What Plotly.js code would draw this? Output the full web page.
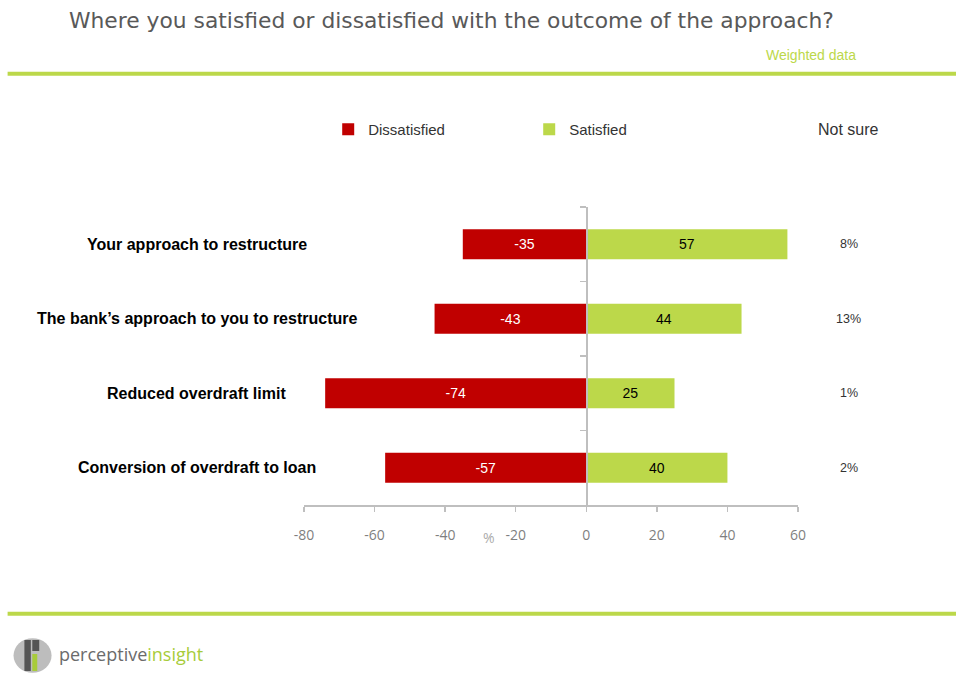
<!DOCTYPE html>
<html>
<head>
<meta charset="utf-8">
<script src="https://cdn.plot.ly/plotly-3.0.1.min.js"></script>
<style>html,body{margin:0;padding:0;background:#fff;}#chart{width:956px;height:675px;}</style>
</head>
<body>
<div id="chart"></div>
<script>
const categories = [
  "Your approach to restructure",
  "The bank\u2019s approach to you to restructure",
  "Reduced overdraft limit",
  "Conversion of overdraft to loan"
];
const dissatisfied = [-35, -43, -74, -57];
const satisfied = [57, 44, 25, 40];
const notSure = [8, 13, 1, 2];
const xTicks = [-80, -60, -40, -20, 0, 20, 40, 60];

const RED = '#C00000';
const GREEN = '#BCD84A';
const GRID = '#BFBFBF';

const traces = [
  {
    type: 'bar', orientation: 'h', name: 'Dissatisfied',
    y: categories, x: dissatisfied, width: 0.4,
    marker: {color: RED},
    text: dissatisfied.map(String), textposition: 'inside', insidetextanchor: 'middle',
    textfont: {color: '#FFFFFF', size: 14, family: 'Liberation Sans, Arial'},
    hoverinfo: 'x+y'
  },
  {
    type: 'bar', orientation: 'h', name: 'Satisfied',
    y: categories, x: satisfied, width: 0.4,
    marker: {color: GREEN},
    text: satisfied.map(String), textposition: 'inside', insidetextanchor: 'middle',
    textfont: {color: '#000000', size: 14, family: 'Liberation Sans, Arial'},
    hoverinfo: 'x+y'
  },
  {
    type: 'scatter', mode: 'markers', y: categories, x: categories.map(() => 0),
    yaxis: 'y2', showlegend: false, hoverinfo: 'skip',
    marker: {opacity: 0, size: 1}
  }
];

const annotations = [];
categories.forEach((c, i) => {
  annotations.push({
    xref: 'paper', yref: 'y', x: -0.2166, y: c, xanchor: 'center', yanchor: 'middle',
    text: '<b>' + c + '</b>', showarrow: false,
    font: {family: 'Liberation Sans, Arial', size: 16, color: '#000000'}
  });
  annotations.push({
    xref: 'paper', yref: 'y', x: 1.103, y: c, xanchor: 'center', yanchor: 'middle',
    text: notSure[i] + '%', showarrow: false,
    font: {family: 'Liberation Sans, Arial', size: 12.5, color: '#333333'}
  });
});
annotations.push(
  {xref: 'paper', yref: 'paper', x: 1.102, y: 1.26, xanchor: 'center', yanchor: 'middle',
   text: 'Not sure', showarrow: false, font: {family: 'Liberation Sans, Arial', size: 16, color: '#333333'}},
  {xref: 'x', yref: 'paper', x: -27.5, y: -0.108, xanchor: 'center', yanchor: 'middle',
   text: '%', showarrow: false, font: {family: 'Open Sans, Liberation Sans', size: 14, color: '#ABABAB'}},
  {xref: 'paper', yref: 'paper', x: -0.48, y: 1.6275, xanchor: 'left', yanchor: 'middle',
   text: 'Where you satisfied or dissatisfied with the outcome of the approach?', showarrow: false,
   font: {family: 'DejaVu Sans', size: 21.8, color: '#595959'}},
  {xref: 'paper', yref: 'paper', x: 1.122, y: 1.51, xanchor: 'right', yanchor: 'middle',
   text: 'Weighted data', showarrow: false, font: {family: 'Liberation Sans, Arial', size: 14, color: '#BCD84A'}},
  {xref: 'paper', yref: 'paper', x: -0.5, y: -0.5, xanchor: 'left', yanchor: 'middle',
   text: '<span style="color:#6B6B6B">perceptive</span><span style="color:#A8CC3A">insight</span>', showarrow: false,
   font: {family: 'Open Sans, Liberation Sans', size: 18}}
);

const shapes = [
  {type: 'line', xref: 'paper', yref: 'paper', x0: -0.6, x1: 1.33, y0: 1.447, y1: 1.447,
   line: {color: '#BCD84A', width: 4}},
  {type: 'line', xref: 'paper', yref: 'paper', x0: -0.6, x1: 1.33, y0: -0.365, y1: -0.365,
   line: {color: '#BCD84A', width: 4}},
  // logo icon
  {type: 'circle', xref: 'paper', yref: 'paper', x0: -0.588, x1: -0.511, y0: -0.563, y1: -0.447,
   fillcolor: '#BDBDBD', line: {width: 0}},
  {type: 'rect', xref: 'paper', yref: 'paper', x0: -0.566, x1: -0.553, y0: -0.557, y1: -0.453,
   fillcolor: '#555555', line: {width: 0}},
  {type: 'rect', xref: 'paper', yref: 'paper', x0: -0.550, x1: -0.540, y0: -0.557, y1: -0.500,
   fillcolor: '#A8CC3A', line: {width: 0}},
  {type: 'rect', xref: 'paper', yref: 'paper', x0: -0.550, x1: -0.536, y0: -0.490, y1: -0.453,
   fillcolor: '#555555', line: {width: 0}}
];

const layout = {
  width: 956, height: 675,
  margin: {l: 304, r: 158, t: 207, b: 170},
  paper_bgcolor: '#FFFFFF', plot_bgcolor: '#FFFFFF',
  barmode: 'relative',
  showlegend: true,
  legend: {orientation: 'h', x: 0.049, y: 1.26, xanchor: 'left', yanchor: 'middle',
           entrywidth: 156, entrywidthmode: 'pixels', traceorder: 'normal',
           font: {family: 'Liberation Sans, Arial', size: 15, color: '#333333'}},
  xaxis: {
    range: [-80, 60], tickvals: xTicks, ticktext: xTicks.map(String),
    showgrid: false, zeroline: false, showline: true, linecolor: GRID, linewidth: 1.5,
    ticks: 'outside', ticklen: 5, tickcolor: GRID, tickwidth: 1.5,
    ticklabelstandoff: 12,
    tickfont: {family: 'Open Sans, Liberation Sans', size: 14, color: '#7F7F7F'},
    fixedrange: true
  },
  yaxis: {
    type: 'category', categoryorder: 'array', categoryarray: categories,
    autorange: 'reversed', showticklabels: false, showgrid: false, zeroline: false,
    showline: false, ticks: '', fixedrange: true
  },
  yaxis2: {
    type: 'category', categoryorder: 'array', categoryarray: categories,
    overlaying: 'y', matches: 'y', anchor: 'free', position: 80 / 140, side: 'left',
    autorange: 'reversed', showticklabels: false, showgrid: false, zeroline: false,
    showline: true, linecolor: GRID, linewidth: 1.5,
    ticks: 'outside', tickson: 'boundaries', ticklen: 6, tickcolor: GRID, tickwidth: 1.5,
    fixedrange: true
  },
  annotations: annotations,
  shapes: shapes,
  bargap: 0.6
};

Plotly.newPlot('chart', traces, layout, {displayModeBar: false, staticPlot: true});
</script>
</body>
</html>
